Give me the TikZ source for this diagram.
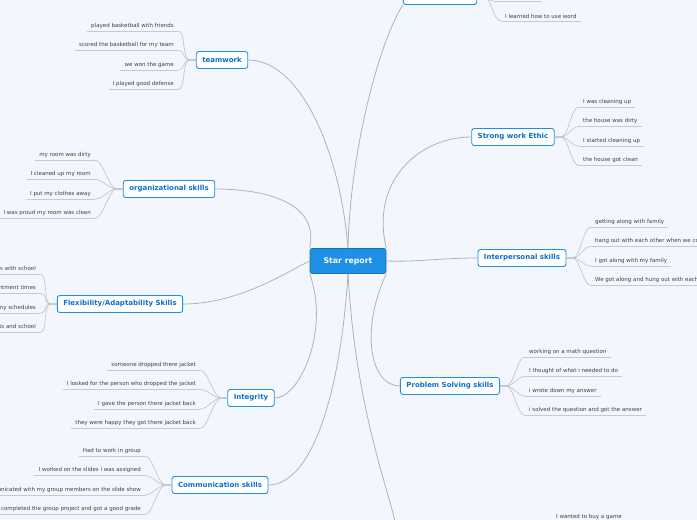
\documentclass[tikz,border=0pt]{standalone}
\usepackage{fontspec}
\setmainfont{DejaVu Sans}
\definecolor{bg}{HTML}{F3F6FD}
\definecolor{bl}{HTML}{1E90E6}
\definecolor{bt}{HTML}{0E6FC8}
\definecolor{cn}{HTML}{AEB2BA}
\begin{document}
\begin{tikzpicture}[x=1pt,y=-1pt,
  center/.style={fill=bl,draw=bl!80!black,line width=0.6pt,rounded corners=2pt,minimum width=76pt,minimum height=25pt,text=white,font=\fontsize{7.8}{9}\selectfont\bfseries},
  branch/.style={fill=white,draw=bl,line width=0.9pt,rounded corners=2.5pt,minimum height=17pt,inner xsep=6pt,text=bt,font=\fontsize{7}{8}\selectfont\bfseries},
  leaf/.style={inner xsep=4pt,inner ysep=2.5pt,text=black!75,font=\fontsize{5.5}{6}\selectfont},
  uline/.style={draw=cn!70,line width=0.5pt},
  conn/.style={draw=cn,line width=0.8pt},
  lconn/.style={draw=cn!80,line width=0.6pt}]
\fill[bg] (0,0) rectangle (697,520);
\clip (0,0) rectangle (697,520);
\node[center] (c) at (348,261) {Star report};
\node[branch] (top) at (440,-4) {\phantom{Computer skills}};
\node[branch] (tw) at (222,60) {teamwork};
\node[branch] (org) at (169,189) {organizational skills};
\node[branch] (flex) at (120,304) {Flexibility/Adaptability Skills};
\node[branch] (int) at (251,398) {Integrity};
\node[branch] (com) at (220,485) {Communication skills};
\node[branch] (swe) at (513,137) {Strong work Ethic};
\node[branch] (ip) at (522,258) {Interpersonal skills};
\node[branch] (ps) at (450,386) {Problem Solving skills};
\node[branch] (bot) at (395,530) {\phantom{Something skills}};
% center connectors
\draw[conn] (c.north) .. controls (350,150) and (380,40) .. (top.south west);
\draw[conn] (c.north) .. controls (340,150) and (300,60) .. (tw.east);
\draw[conn] (c.north west) .. controls (320,200) and (260,189) .. (org.east);
\draw[conn] (c.west) .. controls (290,270) and (240,304) .. (flex.east);
\draw[conn] (c.south west) .. controls (330,330) and (300,398) .. (int.east);
\draw[conn] (c.south) .. controls (340,400) and (310,485) .. (com.east);
\draw[conn] (c.north east) .. controls (370,180) and (420,137) .. (swe.west);
\draw[conn] (c.east) .. controls (420,262) and (440,258) .. (ip.west);
\draw[conn] (c.south east) .. controls (360,330) and (370,386) .. (ps.west);
\draw[conn] (c.south) .. controls (355,400) and (385,480) .. (bot.north);
% left branches
\foreach \b/\x/\ys/\list in {
 tw/178/25/{played basketball with friends,scored the basketball for my team,we won the game,I played good defense},
 org/95/154/{my room was dirty,I cleaned up my room,I put my clothes away,I was proud my room was clean},
 flex/40/268/{I balanced sports with school,I managed my appointment times,I changed my schedules,I balanced sports and school},
 int/200/364/{someone dropped there jacket,I looked for the person who dropped the jacket,I gave the person there jacket back,they were happy they got there jacket back},
 com/145/450/{Had to work in group,I worked on the slides i was assigned,I communicated with my group members on the slide show,We completed the group project and got a good grade}}{
 \foreach \t [count=\i] in \list {
  \node[leaf,anchor=south east] (\b l\i) at (\x,\ys+19.5*\i-19.5+6) {\t};
  \draw[uline] (\b l\i.south west) -- (\b l\i.south east);
  \draw[lconn] (\b.west) -- ++(-6,0) .. controls +(-8,0) and +(8,0) .. (\b l\i.south east);
 }}
% right branches
\foreach \b/\x/\ys/\list in {
 swe/579/101/{I was cleaning up,the house was dirty,I started cleaning up,the house got clean},
 ip/591/221/{getting along with family,hang out with each other when we come over,I got along with my family,We got along and hung out with each other},
 ps/525/351/{working on a math question,I thought of what i needed to do,i wrote down my answer,i solved the question and got the answer}}{
 \foreach \t [count=\i] in \list {
  \node[leaf,anchor=south west] (\b l\i) at (\x,\ys+19.5*\i-19.5+6) {\t};
  \draw[uline] (\b l\i.south west) -- (\b l\i.south east);
  \draw[lconn] (\b.east) -- ++(6,0) .. controls +(8,0) and +(-8,0) .. (\b l\i.south west);
 }}
% partial top and bottom branches
\node[leaf,anchor=south west] (tl1) at (494,1) {\phantom{I learned word}};
\node[leaf,anchor=south west] (tl2) at (501,21) {I learned how to use word};
\draw[uline] (tl1.south west) -- (tl1.south east);
\draw[uline] (tl2.south west) -- (tl2.south east);
\draw[lconn] (top.east) -- ++(6,0) .. controls +(8,0) and +(-8,0) .. (tl1.south west);
\draw[lconn] (top.east) -- ++(6,0) .. controls +(8,0) and +(-8,0) .. (tl2.south west);
\node[leaf,anchor=south west] (bl1) at (552,522) {I wanted to buy a game};
\end{tikzpicture}
\end{document}
